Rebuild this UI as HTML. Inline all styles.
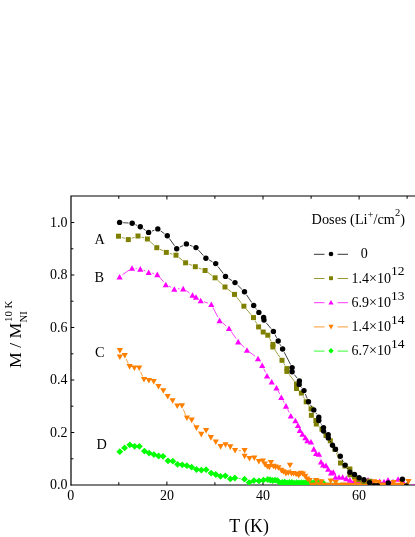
<!DOCTYPE html><html><head><meta charset="utf-8"><style>html,body{margin:0;padding:0;background:#fff}body{width:415px;height:537px;position:relative;overflow:hidden;font-family:"Liberation Serif",serif;color:#000}div{margin:0;padding:0}</style></head><body><div style="position:absolute;left:0;top:0;width:415px;height:537px;overflow:hidden;will-change:transform">
<svg width="415" height="537" viewBox="0 0 415 537" style="position:absolute;left:0;top:0">
<path d="M71.0 485.5L71.0 196.0L416 196.0" stroke="#000" stroke-width="1.2" fill="none"/>
<path d="M70.5 485.0L416 485.0" stroke="#000" stroke-width="1.2" fill="none"/>
<path d="M118.8 485.0v-2.8M118.8 196.0v2.8M166.9 485.0v-3.5M166.9 196.0v3.5M214.9 485.0v-2.8M214.9 196.0v2.8M263.0 485.0v-3.5M263.0 196.0v3.5M311.1 485.0v-2.8M311.1 196.0v2.8M359.1 485.0v-3.5M359.1 196.0v3.5M407.1 485.0v-2.8M407.1 196.0v2.8M71.0 458.8h2.4M71.0 432.5h3.3M71.0 406.2h2.4M71.0 380.0h3.3M71.0 353.8h2.4M71.0 327.5h3.3M71.0 301.2h2.4M71.0 275.0h3.3M71.0 248.8h2.4M71.0 222.5h3.3" stroke="#000" stroke-width="1" fill="none"/>
<defs><clipPath id="cp"><rect x="0" y="0" width="416" height="485.1"/></clipPath></defs><g clip-path="url(#cp)">
<path d="M238.5 478.4L240.9 478.8M326.7 483.1L356.0 483.6" stroke="#00ff00" stroke-width="0.75" fill="none"/>
<path d="M116.3 451.7L119.8 448.2L123.2 451.7L119.8 455.1ZM121.1 447.9L124.6 444.4L128.0 447.9L124.6 451.3ZM126.4 444.8L129.8 441.4L133.2 444.8L129.8 448.2ZM131.2 446.3L134.6 442.9L138.0 446.3L134.6 449.8ZM136.0 446.3L139.4 442.9L142.8 446.3L139.4 449.8ZM141.0 451.1L144.4 447.7L147.8 451.1L144.4 454.6ZM145.7 453.1L149.1 449.7L152.5 453.1L149.1 456.6ZM150.5 454.6L153.9 451.2L157.3 454.6L153.9 458.1ZM155.2 456.0L158.7 452.6L162.1 456.0L158.7 459.4ZM159.7 456.3L163.1 452.9L166.5 456.3L163.1 459.8ZM164.6 460.8L168.0 457.4L171.4 460.8L168.0 464.2ZM169.4 461.2L172.8 457.8L176.2 461.2L172.8 464.6ZM174.1 464.3L177.5 460.9L180.9 464.3L177.5 467.8ZM178.8 464.8L182.2 461.4L185.6 464.8L182.2 468.2ZM183.5 465.7L186.9 462.2L190.3 465.7L186.9 469.1ZM188.2 467.2L191.7 463.8L195.1 467.2L191.7 470.6ZM193.1 469.5L196.5 466.1L199.9 469.5L196.5 472.9ZM197.9 470.1L201.3 466.7L204.8 470.1L201.3 473.6ZM202.7 469.7L206.1 466.2L209.5 469.7L206.1 473.1ZM207.7 473.1L211.1 469.7L214.5 473.1L211.1 476.6ZM212.4 474.5L215.8 471.1L219.2 474.5L215.8 477.9ZM217.1 476.3L220.5 472.9L223.9 476.3L220.5 479.8ZM221.9 475.8L225.3 472.4L228.8 475.8L225.3 479.2ZM226.9 478.9L230.3 475.4L233.8 478.9L230.3 482.3ZM231.5 478.0L234.9 474.6L238.3 478.0L234.9 481.4ZM241.1 479.2L244.5 475.8L247.9 479.2L244.5 482.6ZM245.8 482.6L249.2 479.2L252.6 482.6L249.2 486.1ZM250.5 480.6L253.9 477.2L257.4 480.6L253.9 484.1ZM255.6 480.9L259.0 477.4L262.4 480.9L259.0 484.3ZM260.1 480.1L263.5 476.7L266.9 480.1L263.5 483.6ZM264.4 479.5L267.8 476.1L271.2 479.5L267.8 482.9ZM266.9 480.0L270.3 476.6L273.8 480.0L270.3 483.4ZM269.2 480.5L272.7 477.1L276.1 480.5L272.7 483.9ZM271.7 480.2L275.1 476.8L278.6 480.2L275.1 483.6ZM274.1 480.6L277.5 477.2L280.9 480.6L277.5 484.1ZM276.4 482.8L279.9 479.4L283.3 482.8L279.9 486.2ZM278.9 482.3L282.3 478.9L285.8 482.3L282.3 485.8ZM281.2 482.2L284.7 478.8L288.1 482.2L284.7 485.6ZM283.7 483.0L287.1 479.6L290.6 483.0L287.1 486.4ZM286.1 482.5L289.5 479.1L292.9 482.5L289.5 485.9ZM288.4 482.4L291.9 478.9L295.3 482.4L291.9 485.8ZM290.9 483.2L294.3 479.8L297.8 483.2L294.3 486.6ZM293.2 482.7L296.7 479.2L300.1 482.7L296.7 486.1ZM295.7 483.0L299.1 479.6L302.6 483.0L299.1 486.4ZM298.1 482.7L301.5 479.2L304.9 482.7L301.5 486.1ZM300.4 482.8L303.9 479.4L307.3 482.8L303.9 486.2ZM302.9 482.4L306.3 478.9L309.8 482.4L306.3 485.8ZM305.2 482.8L308.7 479.4L312.1 482.8L308.7 486.2ZM307.7 483.1L311.1 479.7L314.6 483.1L311.1 486.6ZM310.1 482.7L313.5 479.2L316.9 482.7L313.5 486.1ZM312.4 482.9L315.9 479.4L319.3 482.9L315.9 486.3ZM314.9 482.9L318.3 479.4L321.8 482.9L318.3 486.3ZM317.2 482.3L320.7 478.9L324.1 482.3L320.7 485.8ZM319.7 483.0L323.1 479.6L326.6 483.0L323.1 486.4ZM356.2 483.7L359.6 480.2L363.1 483.7L359.6 487.1Z" fill="#00ff00"/>
<path d="M122.5 274.7L129.1 270.1M135.6 268.4L136.7 268.5M143.6 270.3L145.4 270.9M152.2 273.2L153.8 273.5M159.6 277.2L163.5 281.7M169.0 286.2L171.1 287.3M177.9 288.8L179.6 288.8M186.2 290.6L189.5 293.0M204.1 301.7L207.9 303.1M212.9 307.5L218.0 317.2M222.4 322.7L226.2 326.0M231.0 331.3L236.2 338.6M240.8 344.1L244.4 347.5M249.8 352.2L255.2 356.3M259.9 361.6L260.3 362.2M263.7 368.6L265.5 372.4M269.2 378.6L269.5 378.9M278.1 390.9L279.7 394.0M283.0 400.4L284.3 402.7M287.6 409.1L289.2 412.5M319.9 457.5L320.1 458.3" stroke="#ff00ff" stroke-width="0.75" fill="none"/>
<path d="M116.5 279.6L122.7 279.6L119.6 274.0ZM128.9 270.8L135.1 270.8L132.0 265.2ZM137.2 271.7L143.4 271.7L140.3 266.1ZM145.6 275.1L151.8 275.1L148.7 269.5ZM154.2 277.2L160.4 277.2L157.3 271.6ZM162.7 287.3L168.9 287.3L165.8 281.7ZM171.2 291.8L177.4 291.8L174.3 286.2ZM180.1 291.4L186.3 291.4L183.2 285.8ZM189.4 297.8L195.6 297.8L192.5 292.2ZM192.9 299.8L199.1 299.8L196.0 294.2ZM197.6 303.3L203.8 303.3L200.7 297.7ZM208.2 307.1L214.4 307.1L211.3 301.5ZM216.5 323.2L222.7 323.2L219.6 317.6ZM225.9 331.1L232.1 331.1L229.0 325.5ZM235.1 344.4L241.3 344.4L238.2 338.8ZM243.9 352.8L250.1 352.8L247.0 347.2ZM254.9 361.3L261.1 361.3L258.0 355.7ZM259.1 368.1L265.3 368.1L262.2 362.5ZM263.9 378.5L270.1 378.5L267.0 372.9ZM268.6 384.6L274.8 384.6L271.7 379.0ZM273.4 390.5L279.6 390.5L276.5 384.9ZM278.2 400.0L284.4 400.0L281.3 394.4ZM282.9 408.7L289.1 408.7L286.0 403.1ZM287.7 418.5L293.9 418.5L290.8 412.9ZM292.3 423.3L298.5 423.3L295.4 417.7ZM294.9 428.1L301.1 428.1L298.0 422.5ZM296.8 432.9L303.0 432.9L299.9 427.3ZM299.4 436.8L305.6 436.8L302.5 431.2ZM302.3 440.3L308.5 440.3L305.4 434.7ZM304.3 443.3L310.5 443.3L307.4 437.7ZM307.9 444.6L314.1 444.6L311.0 439.0ZM310.7 451.7L316.9 451.7L313.8 446.1ZM313.0 456.0L319.2 456.0L316.1 450.4ZM315.9 456.8L322.1 456.8L319.0 451.2ZM317.9 464.6L324.1 464.6L321.0 459.0ZM320.0 467.5L326.2 467.5L323.1 461.9ZM322.9 468.2L329.1 468.2L326.0 462.6ZM325.1 471.8L331.3 471.8L328.2 466.2ZM328.0 475.4L334.2 475.4L331.1 469.8ZM330.2 474.8L336.4 474.8L333.3 469.2ZM332.3 479.8L338.5 479.8L335.4 474.2ZM335.9 479.8L342.1 479.8L339.0 474.2ZM339.5 479.8L345.7 479.8L342.6 474.2ZM343.2 481.2L349.4 481.2L346.3 475.6ZM346.8 482.7L353.0 482.7L349.9 477.1ZM350.9 483.8L357.1 483.8L354.0 478.2ZM354.9 484.4L361.1 484.4L358.0 478.8ZM359.9 484.4L366.1 484.4L363.0 478.8ZM364.9 482.6L371.1 482.6L368.0 477.0ZM369.9 484.4L376.1 484.4L373.0 478.8ZM376.5 484.1L382.7 484.1L379.6 478.5ZM380.9 484.4L387.1 484.4L384.0 478.8ZM384.9 482.6L391.1 482.6L388.0 477.0ZM389.9 484.4L396.1 484.4L393.0 478.8ZM395.0 481.8L401.2 481.8L398.1 476.2ZM399.9 484.4L406.1 484.4L403.0 478.8Z" fill="#ff00ff"/>
<path d="M411.5 484.9H416" stroke="#ff00ff" stroke-width="0.8"/>
<path d="M126.2 359.0L128.2 363.6M140.6 371.6L142.6 376.5M183.3 409.3L185.6 415.0M193.6 423.5L194.6 425.0M198.6 431.0L199.2 431.7M208.1 433.7L208.9 434.9M238.7 450.7L241.0 450.7M289.1 469.6L289.2 469.0M290.6 469.0L290.8 470.3" stroke="#ff8000" stroke-width="0.75" fill="none"/>
<path d="M116.8 348.1L123.0 348.1L119.9 353.7ZM116.8 354.5L123.0 354.5L119.9 360.1ZM121.7 352.9L127.9 352.9L124.8 358.5ZM126.5 364.1L132.7 364.1L129.6 369.7ZM131.3 365.5L137.5 365.5L134.4 371.1ZM136.1 365.5L142.3 365.5L139.2 371.1ZM140.9 377.0L147.1 377.0L144.0 382.6ZM145.8 378.0L152.0 378.0L148.9 383.6ZM150.6 379.0L156.8 379.0L153.7 384.6ZM155.4 384.0L161.6 384.0L158.5 389.6ZM160.2 388.2L166.4 388.2L163.3 393.8ZM164.6 394.0L170.8 394.0L167.7 399.6ZM169.5 398.2L175.7 398.2L172.6 403.8ZM174.2 403.4L180.4 403.4L177.3 409.0ZM178.9 403.2L185.1 403.2L182.0 408.8ZM183.8 415.5L190.0 415.5L186.9 421.1ZM188.6 417.6L194.8 417.6L191.7 423.2ZM193.4 425.3L199.6 425.3L196.5 430.9ZM198.2 431.8L204.4 431.8L201.3 437.4ZM203.0 427.9L209.2 427.9L206.1 433.5ZM207.8 435.1L214.0 435.1L210.9 440.7ZM212.7 439.5L218.9 439.5L215.8 445.1ZM217.5 444.1L223.7 444.1L220.6 449.7ZM222.4 442.2L228.6 442.2L225.5 447.8ZM227.2 444.3L233.4 444.3L230.3 449.9ZM232.0 447.9L238.2 447.9L235.1 453.5ZM241.5 447.9L247.7 447.9L244.6 453.5ZM241.5 453.7L247.7 453.7L244.6 459.3ZM246.4 455.9L252.6 455.9L249.5 461.5ZM251.2 455.5L257.4 455.5L254.3 461.1ZM255.8 458.9L262.0 458.9L258.9 464.5ZM259.7 458.5L265.9 458.5L262.8 464.1ZM261.7 461.6L267.9 461.6L264.8 467.2ZM264.2 463.9L270.4 463.9L267.3 469.5ZM266.2 464.6L272.4 464.6L269.3 470.2ZM267.8 459.9L274.0 459.9L270.9 465.5ZM270.3 463.7L276.5 463.7L273.4 469.3ZM272.4 464.6L278.6 464.6L275.5 470.2ZM275.3 465.2L281.5 465.2L278.4 470.8ZM278.2 467.8L284.4 467.8L281.3 473.4ZM280.4 469.2L286.6 469.2L283.5 474.8ZM282.8 471.0L289.0 471.0L285.9 476.6ZM285.2 470.3L291.4 470.3L288.3 475.9ZM286.9 462.7L293.1 462.7L290.0 468.3ZM288.3 471.0L294.5 471.0L291.4 476.6ZM290.5 471.0L296.7 471.0L293.6 476.6ZM293.0 471.7L299.2 471.7L296.1 477.3ZM295.6 472.9L301.8 472.9L298.7 478.5ZM297.7 470.7L303.9 470.7L300.8 476.3ZM299.9 471.4L306.1 471.4L303.0 477.0ZM302.1 473.8L308.3 473.8L305.2 479.4ZM304.2 476.5L310.4 476.5L307.3 482.1ZM306.5 477.9L312.7 477.9L309.6 483.5ZM308.9 482.8L315.1 482.8L312.0 488.4ZM311.3 482.5L317.5 482.5L314.4 488.1ZM313.1 478.1L319.3 478.1L316.2 483.7ZM316.1 482.3L322.3 482.3L319.2 487.9ZM318.2 479.3L324.4 479.3L321.3 484.9ZM320.9 483.0L327.1 483.0L324.0 488.6ZM323.3 482.7L329.5 482.7L326.4 488.3ZM325.7 482.9L331.9 482.9L328.8 488.5ZM327.6 478.4L333.8 478.4L330.7 484.0ZM330.5 483.0L336.7 483.0L333.6 488.6ZM332.6 480.1L338.8 480.1L335.7 485.7ZM335.3 482.9L341.5 482.9L338.4 488.5ZM337.7 483.0L343.9 483.0L340.8 488.6ZM340.1 482.6L346.3 482.6L343.2 488.2ZM342.5 482.9L348.7 482.9L345.6 488.5ZM344.9 482.7L351.1 482.7L348.0 488.3ZM347.3 483.0L353.5 483.0L350.4 488.6ZM349.7 483.0L355.9 483.0L352.8 488.6ZM352.1 479.0L358.3 479.0L355.2 484.6ZM354.5 482.4L360.7 482.4L357.6 488.0ZM356.9 482.4L363.1 482.4L360.0 488.0ZM359.3 482.5L365.5 482.5L362.4 488.1ZM361.6 480.3L367.8 480.3L364.7 485.9ZM364.1 483.1L370.3 483.1L367.2 488.7ZM366.5 482.6L372.7 482.6L369.6 488.2ZM368.9 482.8L375.1 482.8L372.0 488.4ZM371.0 479.3L377.2 479.3L374.1 484.9ZM373.7 482.5L379.9 482.5L376.8 488.1ZM375.3 479.9L381.5 479.9L378.4 485.5ZM378.5 482.7L384.7 482.7L381.6 488.3ZM380.9 482.6L387.1 482.6L384.0 488.2ZM383.3 482.6L389.5 482.6L386.4 488.2ZM385.7 482.8L391.9 482.8L388.8 488.4ZM388.1 482.8L394.3 482.8L391.2 488.4ZM390.5 479.9L396.7 479.9L393.6 485.5ZM392.9 483.0L399.1 483.0L396.0 488.6ZM395.3 482.8L401.5 482.8L398.4 488.4ZM398.5 479.9L404.7 479.9L401.6 485.5ZM400.1 483.0L406.3 483.0L403.2 488.6ZM402.5 483.0L408.7 483.0L405.6 488.6ZM405.4 479.1L411.6 479.1L408.5 484.7Z" fill="#ff8000"/>
<path d="M121.9 237.4L124.9 238.4M131.7 238.3L134.6 237.3M141.4 237.1L144.0 237.9M150.0 241.4L154.2 245.3M160.0 249.3L163.1 250.8M169.8 253.4L172.5 254.2M178.8 257.4L182.8 260.6M188.9 264.1L192.0 265.4M198.7 268.0L201.7 269.2M208.0 272.6L212.2 275.7M217.7 280.3L222.4 284.5M227.8 289.2L231.7 292.2M236.7 297.2L241.7 303.4M246.2 309.0L251.2 314.8M255.2 320.8L256.9 323.7M269.5 338.3L271.2 341.3M274.9 350.0L280.0 357.3M283.8 363.4L285.1 365.5M289.1 374.3L294.3 381.1M303.1 396.3L304.5 398.6M308.2 404.8L309.1 405.9M319.0 426.4L319.3 426.8M332.0 444.0L333.3 446.3M336.4 452.8L339.1 459.7" stroke="#808000" stroke-width="0.75" fill="none"/>
<rect x="116.0" y="233.7" width="5.0" height="5.0" fill="#808000"/><rect x="125.8" y="237.1" width="5.0" height="5.0" fill="#808000"/><rect x="135.5" y="233.5" width="5.0" height="5.0" fill="#808000"/><rect x="144.9" y="236.5" width="5.0" height="5.0" fill="#808000"/><rect x="154.3" y="245.2" width="5.0" height="5.0" fill="#808000"/><rect x="163.8" y="249.9" width="5.0" height="5.0" fill="#808000"/><rect x="173.5" y="252.7" width="5.0" height="5.0" fill="#808000"/><rect x="183.1" y="260.3" width="5.0" height="5.0" fill="#808000"/><rect x="192.8" y="264.2" width="5.0" height="5.0" fill="#808000"/><rect x="202.6" y="268.0" width="5.0" height="5.0" fill="#808000"/><rect x="212.6" y="275.3" width="5.0" height="5.0" fill="#808000"/><rect x="222.5" y="284.5" width="5.0" height="5.0" fill="#808000"/><rect x="232.0" y="291.9" width="5.0" height="5.0" fill="#808000"/><rect x="241.4" y="303.7" width="5.0" height="5.0" fill="#808000"/><rect x="251.0" y="315.1" width="5.0" height="5.0" fill="#808000"/><rect x="256.1" y="324.4" width="5.0" height="5.0" fill="#808000"/><rect x="260.7" y="329.5" width="5.0" height="5.0" fill="#808000"/><rect x="265.3" y="332.7" width="5.0" height="5.0" fill="#808000"/><rect x="270.4" y="341.9" width="5.0" height="5.0" fill="#808000"/><rect x="270.4" y="344.5" width="5.0" height="5.0" fill="#808000"/><rect x="279.5" y="357.8" width="5.0" height="5.0" fill="#808000"/><rect x="284.4" y="366.1" width="5.0" height="5.0" fill="#808000"/><rect x="284.4" y="368.9" width="5.0" height="5.0" fill="#808000"/><rect x="294.0" y="381.5" width="5.0" height="5.0" fill="#808000"/><rect x="294.0" y="386.0" width="5.0" height="5.0" fill="#808000"/><rect x="298.9" y="390.6" width="5.0" height="5.0" fill="#808000"/><rect x="303.7" y="399.3" width="5.0" height="5.0" fill="#808000"/><rect x="308.6" y="406.4" width="5.0" height="5.0" fill="#808000"/><rect x="308.9" y="412.8" width="5.0" height="5.0" fill="#808000"/><rect x="313.4" y="418.0" width="5.0" height="5.0" fill="#808000"/><rect x="313.8" y="421.5" width="5.0" height="5.0" fill="#808000"/><rect x="319.5" y="426.7" width="5.0" height="5.0" fill="#808000"/><rect x="323.5" y="433.0" width="5.0" height="5.0" fill="#808000"/><rect x="327.8" y="438.3" width="5.0" height="5.0" fill="#808000"/><rect x="332.5" y="447.0" width="5.0" height="5.0" fill="#808000"/><rect x="338.0" y="460.5" width="5.0" height="5.0" fill="#808000"/><rect x="342.5" y="463.5" width="5.0" height="5.0" fill="#808000"/><rect x="347.4" y="466.5" width="5.0" height="5.0" fill="#808000"/><rect x="347.4" y="472.3" width="5.0" height="5.0" fill="#808000"/><rect x="352.0" y="474.0" width="5.0" height="5.0" fill="#808000"/><rect x="356.5" y="477.0" width="5.0" height="5.0" fill="#808000"/><rect x="361.5" y="479.0" width="5.0" height="5.0" fill="#808000"/><rect x="367.1" y="478.7" width="5.0" height="5.0" fill="#808000"/>
<path d="M123.2 222.7L128.6 223.0M135.5 224.7L137.0 225.4M143.3 228.8L145.6 230.4M152.0 231.1L154.4 230.2M160.7 231.0L164.4 233.6M169.4 238.6L174.6 245.8M179.9 247.1L183.2 245.5M189.8 245.2L192.6 246.3M198.5 250.2L203.4 255.6M209.1 259.9L212.5 261.9M217.9 266.5L223.3 273.5M228.5 278.4L232.0 280.6M237.6 285.1L241.9 289.3M246.5 294.8L251.7 302.5M255.9 308.4L256.7 309.5M266.3 322.9L271.1 328.6M275.0 334.6L276.6 337.8M279.9 344.2L280.9 345.8M284.2 352.2L290.5 364.4M294.3 374.6L297.2 378.2M301.4 387.2L301.8 387.8M305.3 393.9L307.2 398.5M310.5 404.8L311.8 406.9M315.8 412.9L316.8 414.2M320.8 423.5L321.5 424.6M330.1 441.0L330.7 442.1M337.6 452.3L338.2 453.2M342.0 459.4L343.4 461.9M347.1 468.1L347.9 469.2" stroke="#000" stroke-width="0.75" fill="none"/>
<circle cx="119.6" cy="222.4" r="2.7" fill="#000"/><circle cx="132.2" cy="223.3" r="2.7" fill="#000"/><circle cx="140.3" cy="226.8" r="2.7" fill="#000"/><circle cx="148.6" cy="232.4" r="2.7" fill="#000"/><circle cx="157.8" cy="228.9" r="2.7" fill="#000"/><circle cx="167.3" cy="235.7" r="2.7" fill="#000"/><circle cx="176.7" cy="248.7" r="2.7" fill="#000"/><circle cx="186.4" cy="243.9" r="2.7" fill="#000"/><circle cx="196" cy="247.6" r="2.7" fill="#000"/><circle cx="205.9" cy="258.2" r="2.7" fill="#000"/><circle cx="215.7" cy="263.6" r="2.7" fill="#000"/><circle cx="225.5" cy="276.4" r="2.7" fill="#000"/><circle cx="235" cy="282.6" r="2.7" fill="#000"/><circle cx="244.5" cy="291.8" r="2.7" fill="#000"/><circle cx="253.7" cy="305.5" r="2.7" fill="#000"/><circle cx="258.9" cy="312.4" r="2.7" fill="#000"/><circle cx="263.6" cy="317.4" r="2.7" fill="#000"/><circle cx="264" cy="320.1" r="2.7" fill="#000"/><circle cx="273.4" cy="331.4" r="2.7" fill="#000"/><circle cx="278.2" cy="341" r="2.7" fill="#000"/><circle cx="282.6" cy="349" r="2.7" fill="#000"/><circle cx="292.1" cy="367.6" r="2.7" fill="#000"/><circle cx="292.1" cy="371.8" r="2.7" fill="#000"/><circle cx="299.4" cy="381" r="2.7" fill="#000"/><circle cx="299.2" cy="384.4" r="2.7" fill="#000"/><circle cx="304" cy="390.6" r="2.7" fill="#000"/><circle cx="308.5" cy="401.8" r="2.7" fill="#000"/><circle cx="313.8" cy="409.9" r="2.7" fill="#000"/><circle cx="318.8" cy="417.2" r="2.7" fill="#000"/><circle cx="318.8" cy="420.5" r="2.7" fill="#000"/><circle cx="323.5" cy="427.6" r="2.7" fill="#000"/><circle cx="323.6" cy="431.1" r="2.7" fill="#000"/><circle cx="328.2" cy="434.6" r="2.7" fill="#000"/><circle cx="328.3" cy="437.9" r="2.7" fill="#000"/><circle cx="332.5" cy="445.2" r="2.7" fill="#000"/><circle cx="335.5" cy="449.3" r="2.7" fill="#000"/><circle cx="340.3" cy="456.2" r="2.7" fill="#000"/><circle cx="345.1" cy="465.1" r="2.7" fill="#000"/><circle cx="349.9" cy="472.2" r="2.7" fill="#000"/><circle cx="354.5" cy="474.4" r="2.7" fill="#000"/><circle cx="359.1" cy="477.8" r="2.7" fill="#000"/><circle cx="364" cy="479.8" r="2.7" fill="#000"/><circle cx="369.5" cy="482.6" r="2.7" fill="#000"/><circle cx="374" cy="485.6" r="2.7" fill="#000"/><circle cx="377.5" cy="485.8" r="2.7" fill="#000"/><circle cx="388.3" cy="482.9" r="2.7" fill="#000"/><circle cx="402.4" cy="479.3" r="2.7" fill="#000"/><circle cx="406.4" cy="486" r="2.7" fill="#000"/>
</g>
<path d="M314 254.3H324.5M337.6 254.3H348" stroke="#000" stroke-width="0.8"/>
<circle cx="331" cy="254" r="2.3" fill="#000"/>
<path d="M314 278.5H324.5M337.6 278.5H348" stroke="#808000" stroke-width="0.8"/>
<rect x="329.05" y="276.25" width="3.9" height="3.9" fill="#808000"/>
<path d="M314 302.7H324.5M337.6 302.7H348" stroke="#ff00ff" stroke-width="0.8"/>
<path d="M328.4 304.5h5.2l-2.6 -4.4z" fill="#ff00ff"/>
<path d="M314 326.90000000000003H324.5M337.6 326.90000000000003H348" stroke="#ff8000" stroke-width="0.8"/>
<path d="M328.4 324.8h5.2l-2.6 4.7z" fill="#ff8000"/>
<path d="M314 351.1H324.5M337.6 351.1H348" stroke="#00ff00" stroke-width="0.8"/>
<path d="M328.3 350.8l2.7 -2.7l2.7 2.7l-2.7 2.7z" fill="#00ff00"/>
</svg>
<div style="position:absolute;top:477.23px;font-size:14px;line-height:16.086px;white-space:nowrap;right:347.4px;">0.0</div>
<div style="position:absolute;top:424.73px;font-size:14px;line-height:16.086px;white-space:nowrap;right:347.4px;">0.2</div>
<div style="position:absolute;top:372.23px;font-size:14px;line-height:16.086px;white-space:nowrap;right:347.4px;">0.4</div>
<div style="position:absolute;top:319.73px;font-size:14px;line-height:16.086px;white-space:nowrap;right:347.4px;">0.6</div>
<div style="position:absolute;top:267.23px;font-size:14px;line-height:16.086px;white-space:nowrap;right:347.4px;">0.8</div>
<div style="position:absolute;top:214.73px;font-size:14px;line-height:16.086px;white-space:nowrap;right:347.4px;">1.0</div>
<div style="position:absolute;top:487.53px;font-size:14px;line-height:16.086px;white-space:nowrap;left:-29.200000000000003px;width:200px;text-align:center;">0</div>
<div style="position:absolute;top:487.53px;font-size:14px;line-height:16.086px;white-space:nowrap;left:66.89999999999998px;width:200px;text-align:center;">20</div>
<div style="position:absolute;top:487.53px;font-size:14px;line-height:16.086px;white-space:nowrap;left:163.0px;width:200px;text-align:center;">40</div>
<div style="position:absolute;top:487.53px;font-size:14px;line-height:16.086px;white-space:nowrap;left:259.09999999999997px;width:200px;text-align:center;">60</div>
<div style="position:absolute;top:231.26px;font-size:14.3px;line-height:16.431px;white-space:nowrap;left:94.5px;">A</div>
<div style="position:absolute;top:268.56px;font-size:14.3px;line-height:16.431px;white-space:nowrap;left:94.5px;">B</div>
<div style="position:absolute;top:344.46px;font-size:14.3px;line-height:16.431px;white-space:nowrap;left:94.9px;">C</div>
<div style="position:absolute;top:436.46px;font-size:14.3px;line-height:16.431px;white-space:nowrap;left:96.4px;">D</div>
<div style="position:absolute;top:211.26px;font-size:14.3px;line-height:16.431px;white-space:nowrap;left:311.6px;">Doses (Li<span style="font-size:10.5px;position:relative;top:-6.4px">+</span>/cm<span style="font-size:10.5px;position:relative;top:-7.8px">2</span>)</div>
<div style="position:absolute;top:246.43px;font-size:14px;line-height:16.086px;white-space:nowrap;left:360.7px;">0</div>
<div style="position:absolute;top:270.73px;font-size:14px;line-height:16.086px;white-space:nowrap;left:351.6px;">1.4×10<span style="font-size:13.5px;position:relative;top:-7.4px">12</span></div>
<div style="position:absolute;top:294.93px;font-size:14px;line-height:16.086px;white-space:nowrap;left:351.6px;">6.9×10<span style="font-size:13.5px;position:relative;top:-7.4px">13</span></div>
<div style="position:absolute;top:319.13px;font-size:14px;line-height:16.086px;white-space:nowrap;left:351.6px;">1.4×10<span style="font-size:13.5px;position:relative;top:-7.4px">14</span></div>
<div style="position:absolute;top:343.33px;font-size:14px;line-height:16.086px;white-space:nowrap;left:351.6px;">6.7×10<span style="font-size:13.5px;position:relative;top:-7.4px">14</span></div>
<div style="position:absolute;top:515.94px;font-size:17.8px;line-height:20.452px;white-space:nowrap;left:229.2px;">T (K)</div>
<div style="position:absolute;left:21.6px;top:368.4px;transform-origin:0 0;transform:rotate(-90deg);white-space:nowrap;height:0"><span style="position:absolute;left:0;bottom:-2.88px;font-size:17.7px;line-height:17.7px">M / M</span><span style="position:absolute;left:46px;bottom:8.3px;font-size:10.8px;line-height:10.8px">10 K</span><span style="position:absolute;left:45.6px;bottom:-8.0px;font-size:10.6px;line-height:10.6px">NI</span></div>
</div></body></html>
